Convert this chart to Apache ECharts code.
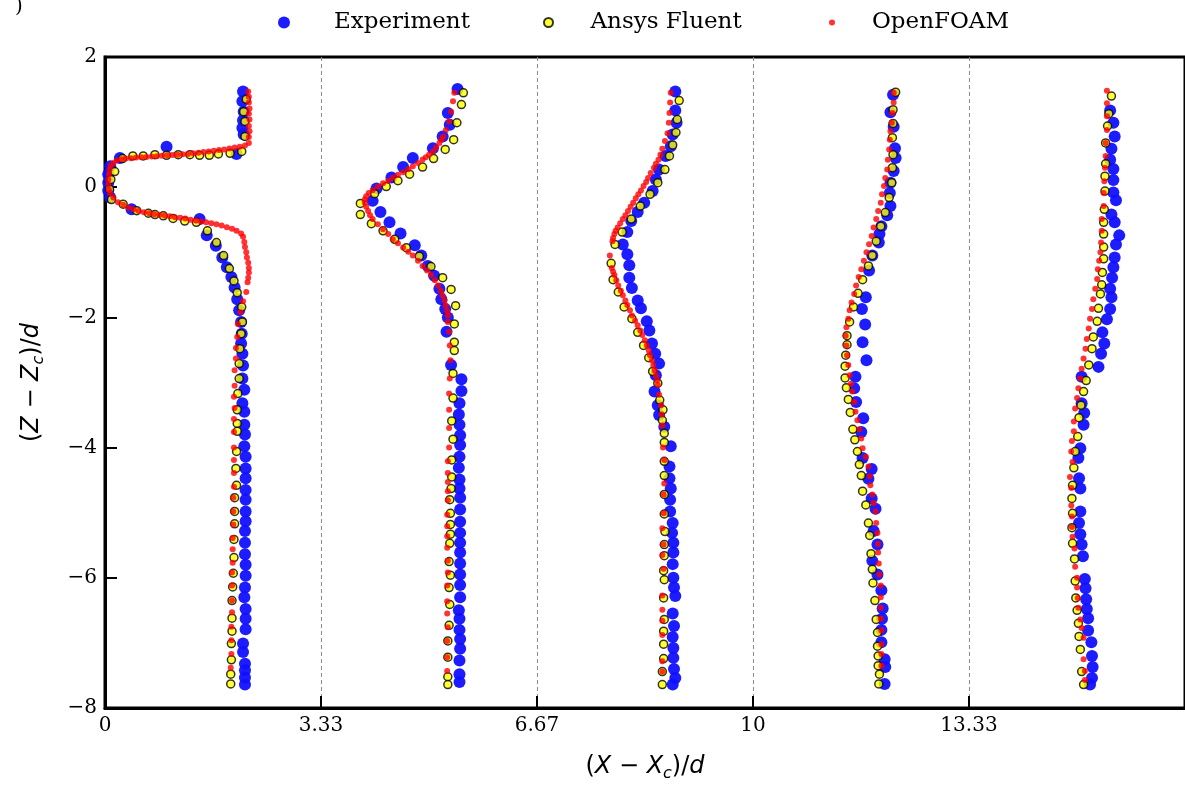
<!DOCTYPE html>
<html>
<head>
<meta charset="utf-8">
<script src="https://cdn.jsdelivr.net/npm/echarts@6/dist/echarts.min.js"></script>
<style>
html, body { margin: 0; padding: 0; background: #fff; }
#chart { width: 1185px; height: 787px; }
</style>
</head>
<body>
<div id="chart"></div>
<script>
// tick labels of the x axis (stations every 3.33 d)
var xTickLabels = ['0', '3.33', '6.67', '10', '13.33', '16.67'];
var seriesNames = ['Experiment', 'Ansys Fluent', 'OpenFOAM'];

// ---- profile 1 ----
var exp1 = [[2.13,1.47],[2.12,1.32],[2.14,1.16],[2.13,1.03],[2.12,0.91],[2.14,0.81],[2.03,0.51],[0.95,0.62],[0.23,0.45],[0.08,0.32],[0.05,0.20],[0.05,0.07],[0.05,-0.05],[0.08,-0.16],[0.41,-0.34],[1.46,-0.49],[1.57,-0.74],[1.71,-0.90],[1.81,-1.08],[1.88,-1.23],[1.95,-1.38],[2.00,-1.54],[2.04,-1.72],[2.07,-1.89],[2.10,-2.07],[2.11,-2.25],[2.10,-2.40],[2.12,-2.56],[2.13,-2.74],[2.12,-2.94],[2.15,-3.11],[2.12,-3.32],[2.15,-3.45],[2.15,-3.65],[2.16,-3.80],[2.15,-3.98],[2.17,-4.14],[2.17,-4.32],[2.17,-4.47],[2.17,-4.65],[2.17,-4.80],[2.17,-4.98],[2.17,-5.13],[2.16,-5.28],[2.16,-5.46],[2.16,-5.64],[2.17,-5.80],[2.17,-5.97],[2.16,-6.15],[2.15,-6.30],[2.17,-6.48],[2.17,-6.63],[2.17,-6.79],[2.13,-7.01],[2.13,-7.14],[2.16,-7.32],[2.16,-7.42],[2.16,-7.53],[2.16,-7.64]];
var fluent1 = [[2.18,1.35],[2.14,1.16],[2.16,1.01],[2.16,0.78],[2.11,0.55],[1.93,0.52],[1.75,0.51],[1.61,0.49],[1.46,0.49],[1.31,0.50],[1.13,0.50],[0.95,0.49],[0.77,0.50],[0.59,0.48],[0.43,0.48],[0.27,0.44],[0.15,0.24],[0.09,0.12],[0.07,-0.03],[0.10,-0.19],[0.28,-0.26],[0.49,-0.36],[0.67,-0.40],[0.77,-0.42],[0.90,-0.44],[1.05,-0.48],[1.23,-0.52],[1.41,-0.54],[1.58,-0.67],[1.72,-0.85],[1.83,-1.05],[1.92,-1.25],[1.99,-1.44],[2.04,-1.62],[2.11,-1.84],[2.12,-2.07],[2.10,-2.25],[2.08,-2.48],[2.07,-2.71],[2.07,-2.94],[2.05,-3.17],[2.04,-3.42],[2.04,-3.63],[2.04,-3.75],[2.03,-4.06],[2.02,-4.32],[2.03,-4.58],[2.00,-4.77],[2.00,-4.98],[2.00,-5.17],[1.99,-5.41],[1.99,-5.69],[1.98,-5.93],[1.97,-6.14],[1.96,-6.35],[1.96,-6.62],[1.96,-6.82],[1.95,-7.01],[1.95,-7.26],[1.94,-7.48],[1.94,-7.63]];
var foam1 = [[2.21,1.47],[2.22,1.39],[2.22,1.30],[2.23,1.21],[2.22,1.13],[2.23,1.04],[2.22,0.94],[2.23,0.86],[2.22,0.77],[2.22,0.68],[2.16,0.64],[2.08,0.62],[2.00,0.61],[1.92,0.595],[1.84,0.58],[1.76,0.57],[1.68,0.56],[1.60,0.55],[1.52,0.54],[1.44,0.53],[1.36,0.52],[1.28,0.51],[1.20,0.505],[1.12,0.50],[1.04,0.495],[0.96,0.49],[0.88,0.485],[0.80,0.476],[0.72,0.47],[0.64,0.465],[0.56,0.46],[0.48,0.455],[0.40,0.445],[0.32,0.44],[0.25,0.43],[0.18,0.41],[0.13,0.37],[0.09,0.33],[0.07,0.27],[0.06,0.20],[0.05,0.12],[0.05,0.04],[0.06,-0.04],[0.08,-0.09],[0.13,-0.16],[0.20,-0.23],[0.28,-0.27],[0.36,-0.31],[0.44,-0.34],[0.52,-0.365],[0.60,-0.385],[0.68,-0.40],[0.76,-0.415],[0.84,-0.425],[0.92,-0.435],[1.00,-0.445],[1.08,-0.46],[1.16,-0.47],[1.24,-0.48],[1.32,-0.50],[1.40,-0.51],[1.48,-0.525],[1.56,-0.54],[1.64,-0.555],[1.72,-0.57],[1.80,-0.59],[1.88,-0.615],[1.96,-0.64],[2.03,-0.67],[2.10,-0.71],[2.13,-0.76],[2.15,-0.84],[2.16,-0.92],[2.18,-1.00],[2.19,-1.08],[2.21,-1.16],[2.22,-1.24],[2.22,-1.31],[2.21,-1.39],[2.20,-1.46],[2.18,-1.61],[2.13,-1.75],[2.09,-1.92],[2.05,-2.10],[2.04,-2.30],[2.02,-2.47],[2.02,-2.63],[2.00,-2.81],[2.00,-3.05],[1.99,-3.22],[2.00,-3.39],[1.99,-3.56],[1.99,-3.76],[1.99,-4.00],[1.99,-4.19],[1.99,-4.39],[1.99,-4.60],[1.98,-4.77],[1.98,-4.98],[1.98,-5.18],[1.97,-5.39],[1.97,-5.56],[1.97,-5.77],[1.96,-5.92],[1.96,-6.12],[1.96,-6.35],[1.96,-6.53],[1.95,-6.75],[1.95,-6.96],[1.95,-7.17],[1.94,-7.38]];

// ---- profile 2 ----
var exp2 = [[5.44,1.51],[5.29,1.14],[5.32,0.96],[5.21,0.78],[5.06,0.60],[4.75,0.45],[4.60,0.31],[4.42,0.15],[4.19,-0.02],[4.13,-0.21],[4.25,-0.38],[4.39,-0.54],[4.56,-0.71],[4.78,-0.89],[4.88,-1.05],[4.98,-1.21],[5.08,-1.36],[5.16,-1.56],[5.19,-1.72],[5.25,-1.87],[5.29,-2.00],[5.27,-2.22],[5.34,-2.73],[5.50,-2.95],[5.50,-3.13],[5.47,-3.32],[5.46,-3.49],[5.47,-3.65],[5.48,-3.81],[5.48,-3.96],[5.47,-4.14],[5.46,-4.31],[5.47,-4.49],[5.47,-4.63],[5.48,-4.77],[5.48,-4.95],[5.48,-5.14],[5.48,-5.31],[5.48,-5.46],[5.48,-5.61],[5.48,-5.78],[5.48,-5.95],[5.48,-6.11],[5.48,-6.30],[5.46,-6.50],[5.47,-6.63],[5.47,-6.80],[5.48,-6.94],[5.48,-7.09],[5.47,-7.27],[5.47,-7.48],[5.47,-7.60]];
var fluent2 = [[5.53,1.45],[5.50,1.27],[5.43,0.99],[5.38,0.73],[5.25,0.58],[5.07,0.44],[4.90,0.31],[4.70,0.20],[4.52,0.10],[4.34,0.01],[4.16,-0.10],[3.94,-0.25],[3.94,-0.42],[4.11,-0.56],[4.29,-0.67],[4.47,-0.80],[4.65,-0.93],[4.85,-1.06],[5.03,-1.22],[5.21,-1.39],[5.34,-1.57],[5.41,-1.82],[5.39,-2.10],[5.39,-2.38],[5.39,-2.51],[5.37,-2.86],[5.37,-3.24],[5.35,-3.59],[5.37,-3.87],[5.35,-4.19],[5.35,-4.45],[5.34,-4.63],[5.32,-4.80],[5.33,-5.01],[5.33,-5.18],[5.33,-5.33],[5.32,-5.47],[5.31,-5.75],[5.33,-5.96],[5.31,-6.15],[5.32,-6.41],[5.31,-6.73],[5.29,-6.97],[5.29,-7.22],[5.29,-7.52],[5.29,-7.64]];
var foam2 = [[5.39,1.45],[5.37,1.32],[5.34,1.16],[5.31,1.01],[5.26,0.88],[5.22,0.78],[5.19,0.73],[5.16,0.68],[5.11,0.61],[5.06,0.55],[5.00,0.50],[4.95,0.46],[4.90,0.425],[4.83,0.37],[4.75,0.32],[4.68,0.275],[4.60,0.23],[4.52,0.19],[4.44,0.145],[4.37,0.10],[4.29,0.06],[4.21,0.01],[4.13,-0.045],[4.07,-0.09],[4.03,-0.14],[4.01,-0.19],[4.01,-0.24],[4.03,-0.30],[4.06,-0.365],[4.09,-0.43],[4.13,-0.49],[4.21,-0.57],[4.29,-0.645],[4.37,-0.72],[4.44,-0.80],[4.52,-0.86],[4.60,-0.925],[4.68,-0.99],[4.75,-1.05],[4.83,-1.13],[4.90,-1.21],[4.97,-1.28],[5.03,-1.35],[5.09,-1.43],[5.14,-1.51],[5.18,-1.59],[5.21,-1.665],[5.24,-1.74],[5.26,-1.82],[5.28,-1.90],[5.29,-1.97],[5.29,-2.07],[5.31,-2.22],[5.32,-2.43],[5.33,-2.66],[5.32,-2.94],[5.31,-3.17],[5.31,-3.42],[5.31,-3.70],[5.31,-4.00],[5.29,-4.21],[5.29,-4.39],[5.29,-4.53],[5.29,-4.67],[5.29,-4.81],[5.28,-5.03],[5.28,-5.21],[5.28,-5.36],[5.28,-5.54],[5.29,-5.74],[5.29,-5.92],[5.28,-6.12],[5.28,-6.36],[5.28,-6.55],[5.29,-6.76],[5.28,-6.97],[5.28,-7.22],[5.28,-7.43]];

// ---- profile 3 ----
var exp3 = [[8.80,1.47],[8.80,1.18],[8.82,0.99],[8.76,0.81],[8.73,0.63],[8.65,0.48],[8.55,0.27],[8.50,0.12],[8.45,-0.06],[8.32,-0.24],[8.22,-0.38],[8.12,-0.52],[8.06,-0.69],[7.99,-0.88],[8.06,-1.03],[8.09,-1.20],[8.09,-1.39],[8.13,-1.55],[8.22,-1.74],[8.27,-1.86],[8.36,-2.06],[8.40,-2.20],[8.44,-2.40],[8.49,-2.56],[8.55,-2.71],[8.50,-2.89],[8.48,-3.14],[8.53,-3.35],[8.55,-3.50],[8.63,-3.68],[8.73,-3.98],[8.71,-4.29],[8.71,-4.47],[8.73,-4.63],[8.72,-4.80],[8.72,-4.98],[8.76,-5.16],[8.75,-5.31],[8.77,-5.46],[8.77,-5.61],[8.76,-5.79],[8.77,-6.00],[8.78,-6.15],[8.80,-6.28],[8.76,-6.55],[8.78,-6.74],[8.76,-6.91],[8.77,-7.08],[8.77,-7.23],[8.78,-7.40],[8.80,-7.54],[8.76,-7.64]];
var fluent3 = [[8.86,1.33],[8.83,1.04],[8.81,0.84],[8.76,0.65],[8.71,0.48],[8.64,0.27],[8.53,0.07],[8.41,-0.11],[8.26,-0.29],[8.12,-0.49],[7.98,-0.69],[7.87,-0.88],[7.81,-1.17],[7.84,-1.42],[7.92,-1.61],[8.01,-1.84],[8.13,-2.02],[8.22,-2.23],[8.31,-2.43],[8.39,-2.62],[8.45,-2.83],[8.53,-3.01],[8.56,-3.27],[8.61,-3.42],[8.60,-3.58],[8.63,-3.78],[8.63,-3.92],[8.63,-4.21],[8.63,-4.43],[8.63,-4.72],[8.63,-5.02],[8.64,-5.29],[8.63,-5.49],[8.63,-5.66],[8.62,-5.89],[8.63,-6.03],[8.62,-6.31],[8.63,-6.64],[8.62,-6.82],[8.62,-7.02],[8.62,-7.24],[8.60,-7.44],[8.60,-7.64]];
var foam3 = [[8.73,1.45],[8.72,1.30],[8.71,1.14],[8.70,0.99],[8.68,0.83],[8.64,0.71],[8.60,0.59],[8.57,0.50],[8.54,0.42],[8.50,0.36],[8.47,0.30],[8.42,0.22],[8.38,0.14],[8.35,0.08],[8.31,0.02],[8.27,-0.05],[8.23,-0.11],[8.19,-0.17],[8.15,-0.24],[8.11,-0.30],[8.07,-0.365],[8.03,-0.43],[7.99,-0.49],[7.95,-0.555],[7.91,-0.62],[7.88,-0.67],[7.86,-0.72],[7.84,-0.78],[7.83,-0.83],[7.79,-1.05],[7.82,-1.24],[7.84,-1.30],[7.86,-1.35],[7.89,-1.43],[7.92,-1.51],[7.96,-1.59],[7.99,-1.66],[8.03,-1.74],[8.06,-1.81],[8.10,-1.89],[8.13,-1.97],[8.18,-2.05],[8.22,-2.12],[8.26,-2.20],[8.29,-2.27],[8.33,-2.35],[8.36,-2.43],[8.39,-2.51],[8.41,-2.58],[8.44,-2.66],[8.46,-2.73],[8.48,-2.81],[8.50,-2.89],[8.52,-2.97],[8.53,-3.04],[8.55,-3.19],[8.58,-3.35],[8.59,-3.49],[8.60,-3.66],[8.61,-4.00],[8.63,-4.19],[8.63,-4.55],[8.62,-4.72],[8.62,-5.01],[8.60,-5.24],[8.62,-5.49],[8.60,-5.65],[8.62,-5.86],[8.60,-6.27],[8.60,-6.49],[8.60,-6.66],[8.60,-6.88],[8.60,-7.28],[8.60,-7.44]];

// ---- profile 4 ----
var exp4 = [[12.16,1.42],[12.12,1.15],[12.17,0.93],[12.19,0.60],[12.20,0.45],[12.17,0.25],[12.12,0.07],[12.11,-0.09],[12.12,-0.29],[12.07,-0.43],[11.98,-0.60],[11.95,-0.72],[11.94,-0.85],[11.84,-1.05],[11.79,-1.28],[11.74,-1.69],[11.68,-1.87],[11.73,-2.11],[11.69,-2.38],[11.75,-2.66],[11.58,-2.91],[11.56,-3.09],[11.59,-3.30],[11.70,-3.55],[11.67,-3.76],[11.69,-4.16],[11.83,-4.33],[11.78,-4.48],[11.83,-4.78],[11.89,-4.94],[11.86,-5.28],[11.92,-5.49],[11.84,-5.74],[11.92,-5.95],[11.98,-6.19],[12.00,-6.47],[11.99,-6.63],[11.98,-6.80],[11.98,-6.99],[12.03,-7.25],[12.04,-7.37],[12.03,-7.63]];
var fluent4 = [[12.20,1.46],[12.16,1.19],[12.16,0.98],[12.15,0.76],[12.16,0.50],[12.15,0.30],[12.14,0.07],[12.10,-0.16],[12.04,-0.39],[11.97,-0.60],[11.90,-0.83],[11.84,-1.05],[11.78,-1.21],[11.69,-1.42],[11.62,-1.63],[11.55,-1.84],[11.49,-2.07],[11.45,-2.28],[11.45,-2.42],[11.43,-2.58],[11.42,-2.75],[11.42,-2.93],[11.44,-3.08],[11.47,-3.26],[11.50,-3.46],[11.54,-3.72],[11.57,-3.88],[11.61,-4.06],[11.64,-4.26],[11.67,-4.43],[11.69,-4.67],[11.74,-4.88],[11.78,-5.16],[11.80,-5.35],[11.82,-5.63],[11.84,-5.87],[11.85,-6.08],[11.88,-6.35],[11.90,-6.64],[11.92,-6.84],[11.92,-7.05],[11.93,-7.20],[11.93,-7.35],[11.95,-7.48],[11.94,-7.63]];
var foam4 = [[12.17,1.45],[12.17,1.30],[12.15,1.14],[12.14,0.99],[12.12,0.86],[12.11,0.73],[12.10,0.58],[12.08,0.42],[12.07,0.27],[12.04,0.14],[12.02,0.02],[11.99,-0.11],[11.97,-0.24],[11.93,-0.365],[11.90,-0.49],[11.86,-0.62],[11.83,-0.75],[11.79,-0.875],[11.75,-1.00],[11.71,-1.13],[11.67,-1.26],[11.63,-1.38],[11.59,-1.51],[11.56,-1.64],[11.52,-1.77],[11.49,-1.89],[11.47,-2.02],[11.44,-2.15],[11.43,-2.28],[11.44,-2.43],[11.45,-2.58],[11.47,-2.73],[11.49,-2.89],[11.51,-3.02],[11.53,-3.14],[11.56,-3.30],[11.58,-3.45],[11.61,-3.58],[11.64,-3.72],[11.67,-3.86],[11.69,-4.01],[11.74,-4.14],[11.78,-4.29],[11.80,-4.44],[11.81,-4.58],[11.84,-4.72],[11.86,-4.85],[11.89,-4.98],[11.90,-5.16],[11.92,-5.31],[11.93,-5.48],[11.93,-5.61],[11.94,-5.78],[11.95,-5.95],[11.97,-6.12],[11.97,-6.30],[11.97,-6.46],[11.97,-6.63],[11.98,-6.81],[11.98,-7.02],[11.98,-7.17],[11.98,-7.35]];

// ---- profile 5 ----
var exp5 = [[15.51,1.18],[15.56,0.99],[15.58,0.78],[15.53,0.59],[15.51,0.42],[15.56,0.28],[15.56,0.11],[15.56,-0.08],[15.60,-0.20],[15.53,-0.42],[15.58,-0.54],[15.65,-0.74],[15.60,-0.88],[15.58,-1.08],[15.56,-1.23],[15.54,-1.39],[15.51,-1.56],[15.53,-1.69],[15.51,-1.87],[15.46,-2.03],[15.39,-2.23],[15.42,-2.40],[15.37,-2.56],[15.33,-2.76],[15.07,-2.91],[15.07,-3.32],[15.11,-3.47],[15.10,-3.65],[15.05,-4.01],[15.02,-4.16],[15.03,-4.47],[15.05,-4.63],[15.05,-4.98],[15.03,-5.16],[15.05,-5.33],[15.07,-5.49],[15.09,-5.67],[15.12,-6.02],[15.13,-6.16],[15.14,-6.33],[15.15,-6.48],[15.17,-6.62],[15.17,-6.81],[15.22,-6.99],[15.23,-7.20],[15.24,-7.37],[15.23,-7.54],[15.20,-7.64]];
var fluent5 = [[15.53,1.40],[15.49,1.13],[15.47,0.94],[15.44,0.68],[15.44,0.36],[15.43,0.17],[15.43,-0.06],[15.42,-0.34],[15.41,-0.54],[15.41,-0.72],[15.41,-0.92],[15.41,-1.10],[15.39,-1.31],[15.38,-1.50],[15.36,-1.64],[15.33,-1.86],[15.31,-2.06],[15.25,-2.30],[15.23,-2.48],[15.18,-2.73],[15.14,-2.97],[15.10,-3.14],[15.06,-3.35],[15.03,-3.54],[15.01,-3.83],[14.97,-4.06],[14.95,-4.31],[14.93,-4.58],[14.92,-4.78],[14.93,-5.01],[14.92,-5.23],[14.93,-5.47],[14.96,-5.71],[14.97,-6.05],[14.98,-6.31],[15.00,-6.50],[15.02,-6.70],[15.03,-6.90],[15.05,-7.10],[15.07,-7.44],[15.10,-7.64]];
var foam5 = [[15.46,1.48],[15.46,1.29],[15.46,1.09],[15.46,0.88],[15.44,0.68],[15.44,0.48],[15.43,0.30],[15.42,0.09],[15.41,-0.09],[15.41,-0.29],[15.38,-0.49],[15.38,-0.67],[15.37,-0.85],[15.36,-1.00],[15.34,-1.13],[15.32,-1.26],[15.31,-1.41],[15.28,-1.56],[15.25,-1.72],[15.23,-1.87],[15.20,-2.02],[15.18,-2.17],[15.15,-2.33],[15.13,-2.48],[15.10,-2.63],[15.07,-2.79],[15.05,-2.94],[15.02,-3.09],[15.00,-3.24],[14.97,-3.40],[14.95,-3.60],[14.95,-3.75],[14.92,-3.90],[14.91,-4.06],[14.93,-4.22],[14.89,-4.45],[14.91,-4.62],[14.91,-4.89],[14.92,-5.06],[14.92,-5.22],[14.93,-5.37],[14.96,-5.55],[14.97,-5.83],[15.00,-6.00],[15.00,-6.15],[15.01,-6.31],[15.02,-6.46],[15.05,-6.64],[15.07,-6.77],[15.10,-6.92],[15.10,-7.25],[15.12,-7.43],[15.12,-7.57]];

var serif = "'DejaVu Serif', 'Liberation Serif', serif";
var sans = "'DejaVu Sans', sans-serif";

var chart = echarts.init(document.getElementById('chart'));

function legendFor(name, left, w, h) {
    return {
        data: [name],
        left: left,
        top: 11,
        padding: 0,
        icon: 'circle',
        itemWidth: w,
        itemHeight: h,
        textStyle: { fontFamily: serif, fontSize: 23, color: '#000' }
    };
}

function axisName(v) {
    return '{p|(}{i|' + v + '}{p| − }{i|' + v + '}{s|c}{p|)/}{i|d}';
}
var nameRich = {
    p: { fontFamily: sans, fontSize: 24, lineHeight: 30, color: '#000' },
    i: { fontFamily: sans, fontStyle: 'italic', fontSize: 24, lineHeight: 30, color: '#000' },
    s: { fontFamily: sans, fontStyle: 'italic', fontSize: 16, lineHeight: 16, verticalAlign: 'bottom', color: '#000' }
};

chart.setOption({
    animation: false,
    backgroundColor: '#fff',
    title: { text: ')', left: 10, top: -8, textStyle: { fontFamily: serif, fontSize: 20, fontWeight: 'normal', color: '#000' } },
    legend: [
        legendFor(seriesNames[0], 278, 90, 12),
        legendFor(seriesNames[1], 543, 74, 9),
        legendFor(seriesNames[2], 829, 70, 6)
    ],
    grid: { left: 105, top: 57, width: 1082, height: 654, show: true, borderColor: '#000', borderWidth: 3, backgroundColor: 'transparent' },
    xAxis: {
        type: 'value',
        min: 0, max: 16.665, interval: 3.333,
        axisLine: { show: true, onZero: false, lineStyle: { color: '#000', width: 3 } },
        axisTick: { show: true, inside: true, length: 12, lineStyle: { color: '#000', width: 2 } },
        axisLabel: {
            margin: 8, fontFamily: serif, fontSize: 20, color: '#000', showMaxLabel: false,
            formatter: function (v) { return xTickLabels[Math.round(v / 3.333)]; }
        },
        splitLine: { show: true, lineStyle: { color: '#8c8c8c', width: 1, type: [4, 3] } },
        name: axisName('X'),
        nameLocation: 'middle',
        nameGap: 44,
        nameTextStyle: { rich: nameRich }
    },
    yAxis: {
        type: 'value',
        min: -8, max: 2, interval: 2,
        axisLine: { show: true, onZero: false, lineStyle: { color: '#000', width: 3 } },
        axisTick: { show: true, inside: true, length: 12, lineStyle: { color: '#000', width: 2 } },
        axisLabel: {
            margin: 8, fontFamily: serif, fontSize: 20, color: '#000',
            formatter: function (v) { return String(v).replace('-', '\u2212'); }
        },
        splitLine: { show: false },
        name: axisName('Z'),
        nameLocation: 'middle',
        nameGap: 58,
        nameTextStyle: { rich: nameRich }
    },
    series: [
        {
            name: seriesNames[0], type: 'scatter', symbol: 'circle', symbolSize: 12,
            itemStyle: { color: '#1010ff', opacity: 0.95 },
            data: exp1.concat(exp2, exp3, exp4, exp5), z: 1
        },
        {
            name: seriesNames[1], type: 'scatter', symbol: 'circle', symbolSize: 8,
            itemStyle: { color: '#ffff00', borderColor: '#000', borderWidth: 1.5 },
            data: fluent1.concat(fluent2, fluent3, fluent4, fluent5), z: 2
        },
        {
            name: seriesNames[2], type: 'scatter', symbol: 'circle', symbolSize: 6,
            itemStyle: { color: '#ff0000' },
            data: foam1.concat(foam2, foam3, foam4, foam5), z: 3
        }
    ]
});
</script>
</body>
</html>
